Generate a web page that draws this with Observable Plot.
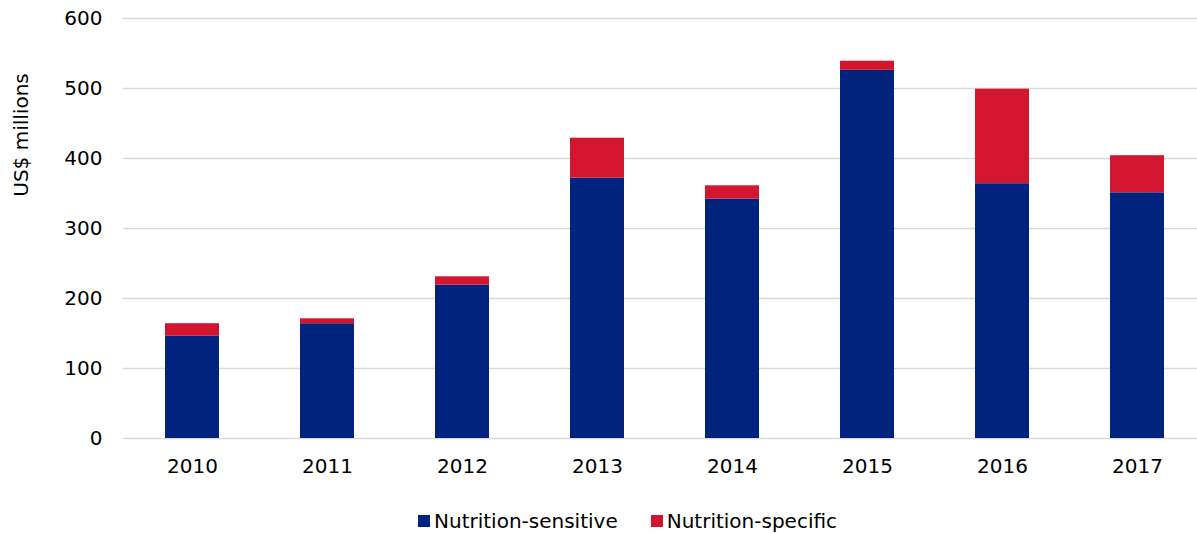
<!DOCTYPE html>
<html>
<head>
<meta charset="utf-8">
<script src="https://cdn.jsdelivr.net/npm/d3@7"></script>
<script src="https://cdn.jsdelivr.net/npm/@observablehq/plot@0.6"></script>
<style>
  body { margin: 0; background: #fff; font-family: "DejaVu Sans", sans-serif; }
  #wrap { position: relative; width: 1197px; height: 533px; overflow: hidden; }
  #ylabel { position: absolute; left: 21px; top: 135px; transform: translate(-50%, -50%) rotate(-90deg); font-size: 20px; color: #000; white-space: nowrap; }
  #legend { position: absolute; left: 418px; top: 508px; display: flex; gap: 33px; font-size: 20px; line-height: 26px; color: #000; }
  .item { display: flex; align-items: center; gap: 4px; }
  .sw { width: 12px; height: 12px; display: inline-block; }
</style>
</head>
<body>
<div id="wrap">
  <div id="chart"></div>
  <div id="ylabel">US$ millions</div>
  <div id="legend"></div>
</div>
<script>
const years = ["2010", "2011", "2012", "2013", "2014", "2015", "2016", "2017"];
const sensitive = [146, 164, 219, 372, 342, 526, 364, 351];
const specific = [18, 7, 12, 57, 19, 13, 135, 53];
const seriesNames = ["Nutrition-sensitive", "Nutrition-specific"];
const seriesColors = ["#00247D", "#D2162F"];
const yTicks = [0, 100, 200, 300, 400, 500, 600];

const rows = [];
years.forEach((y, i) => {
  rows.push({year: y, series: seriesNames[0], value: sensitive[i]});
  rows.push({year: y, series: seriesNames[1], value: specific[i]});
});

const plot = Plot.plot({
  width: 1197,
  height: 495,
  marginTop: 18,
  marginBottom: 57,
  marginLeft: 123,
  marginRight: 0,
  style: {fontFamily: "'DejaVu Sans', sans-serif", fontSize: "20px", color: "#000", background: "#fff", overflow: "visible"},
  x: {domain: years, range: [124, 1204], paddingInner: 0.6, paddingOuter: 0.3, label: null},
  y: {domain: [0, 600], label: null},
  color: {domain: seriesNames, range: seriesColors},
  marks: [
    Plot.ruleY(yTicks, {stroke: "#d9d9d9", strokeWidth: 1.5}),
    Plot.barY(rows, {x: "year", y: "value", fill: "series", order: seriesNames}),
    Plot.axisX({tickSize: 0, tickPadding: 20, fontSize: 20, label: null, fill: "#000"}),
    Plot.axisY(yTicks, {tickSize: 0, tickPadding: 21, fontSize: 20, label: null, fill: "#000"})
  ]
});
document.getElementById("chart").appendChild(plot);

const legend = document.getElementById("legend");
seriesNames.forEach((n, i) => {
  const it = document.createElement("div");
  it.className = "item";
  const sw = document.createElement("span");
  sw.className = "sw";
  sw.style.background = seriesColors[i];
  const t = document.createElement("span");
  t.textContent = n;
  it.appendChild(sw); it.appendChild(t);
  legend.appendChild(it);
});
</script>
</body>
</html>
